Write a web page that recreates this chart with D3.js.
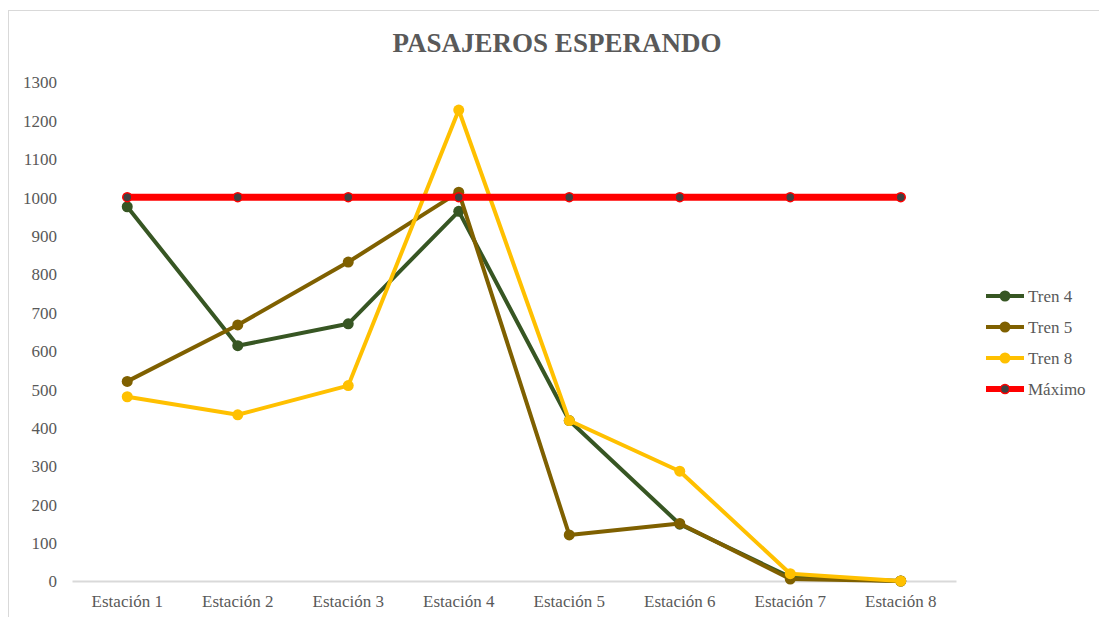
<!DOCTYPE html>
<html>
<head>
<meta charset="utf-8">
<script src="https://cdn.jsdelivr.net/npm/d3@7"></script>
<style>
  html, body { margin: 0; padding: 0; background: #fff; }
  svg { display: block; }
  text { font-family: "Times New Roman", "Liberation Serif", Tinos, "DejaVu Serif", serif; fill: #595959; }
</style>
</head>
<body>
<svg id="chart" width="1099" height="617"></svg>
<script>
const FONT = "'Times New Roman', 'Liberation Serif', Tinos, 'DejaVu Serif', serif";

// Stations along the route
const estaciones = ["Estación 1", "Estación 2", "Estación 3", "Estación 4",
                    "Estación 5", "Estación 6", "Estación 7", "Estación 8"];

// Waiting passengers per train
const tren4 = [975, 613, 670, 963, 418, 148, 10, 0];
const tren5 = [520, 667, 831, 1013, 120, 150, 5, 0];
const tren8 = [480, 433, 509, 1227, 418, 286, 19, 0];
const maximo = [1000, 1000, 1000, 1000, 1000, 1000, 1000, 1000];

const yTicks = [0, 100, 200, 300, 400, 500, 600, 700, 800, 900, 1000, 1100, 1200, 1300];

const series = [
  { name: "Tren 4", values: tren4, color: "#375623", fill: "#375623", stroke: "#375623", width: 4 },
  { name: "Tren 5", values: tren5, color: "#7f6000", fill: "#7f6000", stroke: "#7f6000", width: 4 },
  { name: "Tren 8", values: tren8, color: "#ffc000", fill: "#ffc000", stroke: "#ffc000", width: 4 },
  { name: "Máximo", values: maximo, color: "#ff0000", fill: "#404040", stroke: "#ff0000", width: 7 }
];

const svg = d3.select("#chart");

// Chart frame
svg.append("rect")
  .attr("x", 8.5).attr("y", 10.5)
  .attr("width", 1200).attr("height", 700)
  .attr("fill", "none").attr("stroke", "#d9d9d9");

// Title
svg.append("text")
  .attr("x", 557).attr("y", 52)
  .attr("text-anchor", "middle")
  .style("font-family", FONT)
  .style("font-size", "27px").style("font-weight", "bold")
  .text("PASAJEROS ESPERANDO");

const x = d3.scaleBand().domain(estaciones).range([72, 956]);
const y = d3.scaleLinear().domain([0, 1300]).range([581, 82]);
const cx = d => x(d) + x.bandwidth() / 2;

// Y axis labels (no axis line, no gridlines)
const yAxis = d3.axisLeft(y).tickValues(yTicks).tickSize(0).tickPadding(0).tickFormat(d3.format("d"));
const yg = svg.append("g").attr("transform", "translate(57,0)").call(yAxis)
  .attr("font-family", FONT);
yg.select(".domain").remove();
yg.selectAll("text").style("font-size", "17px").attr("fill", "#595959")
  .style("font-family", FONT).attr("dy", "0.35em");

// X axis
const xAxis = d3.axisBottom(x).tickSize(0).tickPadding(14);
const xg = svg.append("g").attr("transform", "translate(0,581)").call(xAxis)
  .attr("font-family", FONT);
xg.select(".domain").attr("stroke", "#d9d9d9").attr("stroke-width", 2);
xg.selectAll("text").style("font-size", "17px").attr("fill", "#595959")
  .style("font-family", FONT);

const line = d3.line()
  .x((d, i) => cx(estaciones[i]))
  .y(d => y(d));

series.forEach(s => {
  const g = svg.append("g");
  g.append("path")
    .datum(s.values)
    .attr("d", line)
    .attr("fill", "none")
    .attr("stroke", s.color)
    .attr("stroke-width", s.width)
    .attr("stroke-linejoin", "round");
  g.selectAll("circle")
    .data(s.values)
    .join("circle")
    .attr("cx", (d, i) => cx(estaciones[i]))
    .attr("cy", d => y(d))
    .attr("r", s.name === "Máximo" ? 4.5 : 5.5)
    .attr("fill", s.fill)
    .attr("stroke", s.stroke)
    .attr("stroke-width", s.name === "Máximo" ? 1.5 : 0);
});

// Legend
const legend = svg.append("g");
series.forEach((s, i) => {
  const ly = 296 + i * 31;
  const item = legend.append("g");
  item.append("line")
    .attr("x1", 986).attr("x2", 1024)
    .attr("y1", ly).attr("y2", ly)
    .attr("stroke", s.color)
    .attr("stroke-width", s.width === 7 ? 6 : 4);
  item.append("circle")
    .attr("cx", 1005).attr("cy", ly)
    .attr("r", s.name === "Máximo" ? 4.5 : 5.5)
    .attr("fill", s.fill)
    .attr("stroke", s.stroke)
    .attr("stroke-width", s.name === "Máximo" ? 1.5 : 0);
  item.append("text")
    .attr("x", 1028).attr("y", ly)
    .attr("dy", "0.35em")
    .style("font-family", FONT)
    .style("font-size", "17px")
    .text(s.name);
});
</script>
</body>
</html>
